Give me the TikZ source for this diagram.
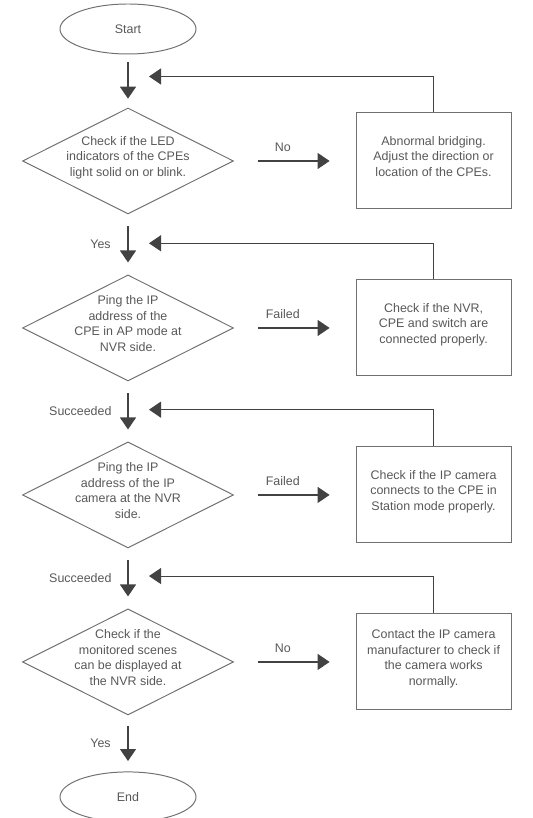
\documentclass[tikz,border=0pt]{standalone}
\usepackage{fontspec}
\setmainfont{Liberation Sans}
\usepackage{xcolor}
\usepackage{tikz}
\usetikzlibrary{arrows.meta,calc,positioning,shapes.geometric}
\definecolor{ink}{RGB}{88,88,88}
\definecolor{edge}{RGB}{112,112,112}
\definecolor{flowc}{RGB}{66,66,66}
\newcommand{\dtext}[1]{\makebox[0pt]{\smash{\begin{tabular}{@{}c@{}}#1\end{tabular}}}}

\begin{document}
\begin{tikzpicture}[node distance=1.5cm,
  every node/.style={font=\fontsize{8.85}{11.2}\selectfont, text=ink},
  terminal/.style={ellipse, draw=edge, line width=0.7pt, minimum width=3.4cm, minimum height=1.25cm, inner sep=0pt},
  decision/.style={diamond, draw=edge, line width=0.7pt, minimum width=5.275cm, minimum height=2.65cm, inner sep=0pt},
  action/.style={rectangle, draw=edge, line width=0.7pt, minimum width=3.875cm, minimum height=2.4cm, inner sep=0pt},
  flow/.style={-{Triangle[length=0.3cm, width=0.4cm]}, line width=0.9pt, draw=flowc, shorten <=0.3cm, shorten >=0.3cm},
  back/.style={-{Triangle[length=0.3cm, width=0.4cm]}, line width=0.75pt, draw=flowc}]
  \useasboundingbox (0,0) rectangle (13.3,-20.45);
  \node[terminal] (start) at (3.2,-0.725) {Start};
  \node[decision, below=1.325cm of start] (q1) {\dtext{Check if the LED\\indicators of the CPEs\\light solid on or blink.}};
  \node[decision, below=of q1] (q2) {\dtext{Ping the IP\\address of the\\CPE in AP mode at\\NVR side.}};
  \node[decision, below=of q2] (q3) {\dtext{Ping the IP\\address of the IP\\camera at the NVR\\side.}};
  \node[decision, below=of q3] (q4) {\dtext{Check if the\\monitored scenes\\can be displayed at\\the NVR side.}};
  \node[terminal, below=1.4cm of q4] (end) {End};
  \node[action, right=3.04cm of q1] (fix1) {\dtext{Abnormal bridging.\\Adjust the direction or\\location of the CPEs.}};
  \node[action, right=3.04cm of q2] (fix2) {\dtext{Check if the NVR,\\CPE and switch are\\connected properly.}};
  \node[action, right=3.04cm of q3] (fix3) {\dtext{Check if the IP camera\\connects to the CPE in\\Station mode properly.}};
  \node[action, right=3.04cm of q4] (fix4) {\dtext{Contact the IP camera\\manufacturer to check if\\the camera works\\normally.}};
  \draw[flow, shorten <=0.2cm, shorten >=0.22cm] (start) -- (q1);
  \draw[flow] (q1) -- node[left=0.3cm] {Yes} (q2);
  \draw[flow] (q2) -- node[left=0.28cm] {Succeeded} (q3);
  \draw[flow] (q3) -- node[left=0.28cm] {Succeeded} (q4);
  \draw[flow, shorten <=0.27cm, shorten >=0.26cm] (q4) -- node[left=0.3cm] {Yes} (end);
  \draw[flow, shorten <=0.6cm, shorten >=0.65cm] (q1) -- node[above=3pt, xshift=-0.3cm] {No} (fix1);
  \draw[flow, shorten <=0.6cm, shorten >=0.65cm] (q2) -- node[above=3pt, xshift=-0.3cm] {Failed} (fix2);
  \draw[flow, shorten <=0.6cm, shorten >=0.65cm] (q3) -- node[above=3pt, xshift=-0.3cm] {Failed} (fix3);
  \draw[flow, shorten <=0.6cm, shorten >=0.65cm] (q4) -- node[above=3pt, xshift=-0.3cm] {No} (fix4);
  \draw[back] (fix1.north) |- ($(start.south)!0.415!(q1.north)+(0.525,0)$);
  \draw[back] (fix2.north) |- ($(q1.south)!0.48!(q2.north)+(0.525,0)$);
  \draw[back] (fix3.north) |- ($(q2.south)!0.47!(q3.north)+(0.525,0)$);
  \draw[back] (fix4.north) |- ($(q3.south)!0.46!(q4.north)+(0.525,0)$);
\end{tikzpicture}
\end{document}
